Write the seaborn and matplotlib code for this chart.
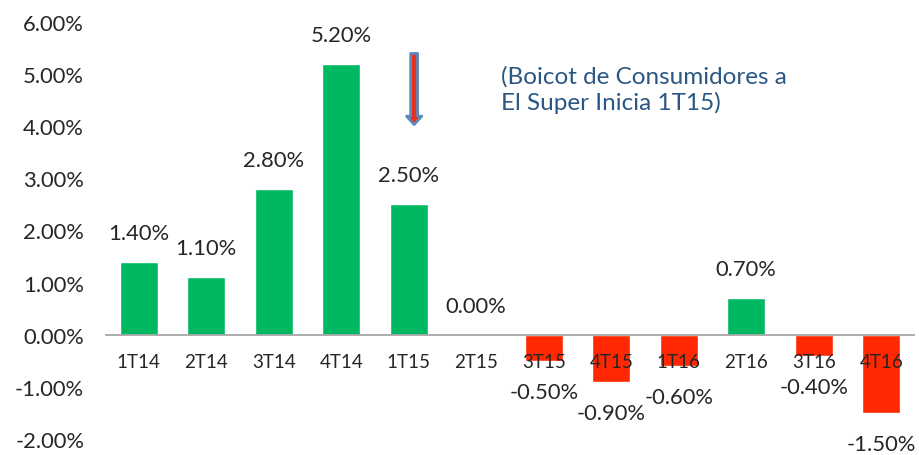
import matplotlib
matplotlib.use("Agg")
import matplotlib.pyplot as plt
import seaborn as sns

# Data
quarters = ["1T14", "2T14", "3T14", "4T14", "1T15", "2T15",
            "3T15", "4T15", "1T16", "2T16", "3T16", "4T16"]
growth = [1.40, 1.10, 2.80, 5.20, 2.50, 0.00,
          -0.50, -0.90, -0.60, 0.70, -0.40, -1.50]
note_lines = ["(Boicot de Consumidores a", "El Super Inicia 1T15)"]

sns.set_style("white")
plt.rcParams["font.family"] = ["Lato", "DejaVu Sans"]

green = "#00B861"
red = "#FF2800"
colors = [green if v >= 0 else red for v in growth]

fig = plt.figure(figsize=(9.2, 4.56), dpi=100)
ax = fig.add_axes([105 / 920, 16 / 456, 810 / 920, 417 / 456])

sns.barplot(x=quarters, y=growth, hue=quarters, palette=colors,
            legend=False, width=0.57, saturation=1, ax=ax)

ax.set_xlim(-0.5, 11.5)
ax.set_ylim(-2, 6)
ax.set_yticks(range(-2, 7))
ax.set_yticklabels([f"{t:.2f}%" for t in range(-2, 7)], fontsize=15.8)
ax.tick_params(axis="y", length=0, pad=15)
ax.set_xticks([])
ax.set_xlabel("")
ax.set_ylabel("")
sns.despine(ax=ax, left=True, bottom=True)
ax.axhline(0, color="#A6A6A6", lw=1.3, zorder=3)

# category labels just below the zero line
for i, q in enumerate(quarters):
    ax.text(i, -0.52, q, ha="center", va="center", fontsize=13.5, zorder=4)

# value labels
for i, v in enumerate(growth):
    y = v + 0.56 if v >= 0 else v - 0.6
    ax.text(i, y, f"{v:.2f}%", ha="center", va="center", fontsize=15.8,
            zorder=4, clip_on=False)

# annotation
ax.annotate("", xy=(4.08, 3.98), xytext=(4.08, 5.45),
            arrowprops=dict(arrowstyle="simple,head_width=1.1,head_length=0.6,tail_width=0.5",
                            fc="#E8321E", ec="#5B8BBE", lw=2))
ax.text(5.36, 4.72, "\n".join(note_lines), ha="left", va="center",
        fontsize=17.5, color="#2A5783", linespacing=1.25)

fig.savefig("out.png", dpi=100)
